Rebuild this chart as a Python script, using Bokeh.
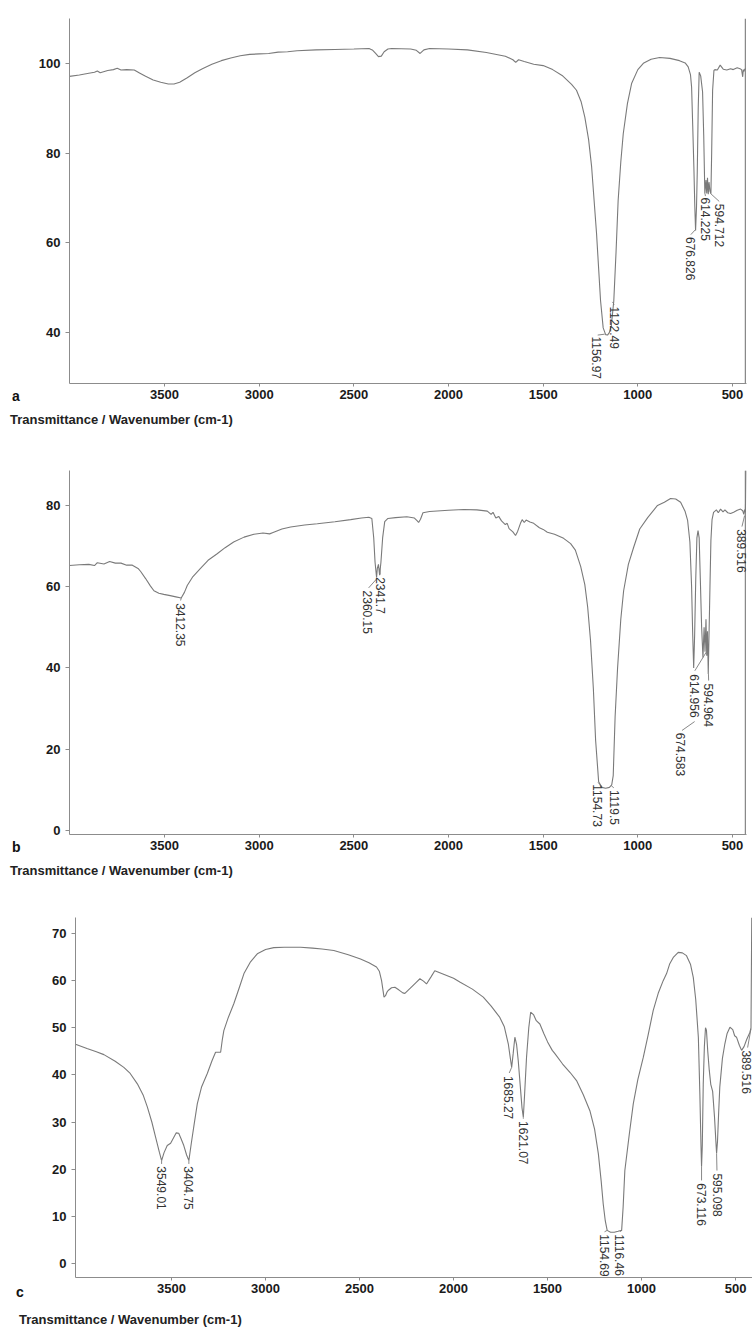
import numpy as np
from bokeh.plotting import figure
from bokeh.models import Range1d, FixedTicker, Div
from bokeh.layouts import column, row
from bokeh.embed import file_html
from bokeh.resources import INLINE
from bokeh.core.properties import value

# ---------------- data: panel a ----------------
a_wn = [4002, 3950, 3900, 3870, 3855, 3840, 3800, 3770, 3750, 3730, 3700, 3660, 3630, 3600, 3560, 3520, 3480,
        3450, 3420, 3380, 3340, 3300, 3250, 3200, 3150, 3100, 3050, 3000, 2950, 2900, 2850, 2800, 2700,
        2600, 2500, 2420, 2400, 2385, 2370, 2355, 2340, 2320, 2300, 2200, 2170, 2150, 2130, 2100, 2000,
        1900, 1800, 1700, 1660, 1645, 1630, 1600, 1550, 1500, 1450, 1400, 1350, 1324, 1300, 1280, 1260,
        1244, 1218, 1197, 1183, 1170, 1160, 1150, 1140, 1127, 1115, 1104, 1090, 1077, 1055, 1033, 1000,
        971, 930, 885, 830, 780, 750, 734, 722, 716, 710, 704, 699, 695, 690, 686, 681, 676, 668, 658,
        652, 646, 640, 636, 632, 628, 624, 619, 614, 610, 605, 598, 593, 580, 565, 549, 530, 510, 496,
        475, 460, 452, 446, 443, 440, 435, 430, 427]
a_T = [97.1, 97.4, 97.8, 98.0, 98.3, 97.9, 98.4, 98.6, 98.9, 98.5, 98.6, 98.5, 97.8, 97.1, 96.3, 95.8, 95.4,
       95.4, 95.8, 96.8, 97.9, 98.8, 99.8, 100.6, 101.2, 101.7, 102.0, 102.1, 102.2, 102.5, 102.6, 102.8, 103.0,
       103.1, 103.2, 103.3, 102.9, 102.2, 101.5, 101.6, 102.6, 103.2, 103.3, 103.2, 102.9, 102.2, 103.0, 103.3, 103.2,
       103.0, 102.4, 101.6, 100.8, 100.2, 100.8, 100.4, 99.8, 99.5, 98.6, 97.3, 95.3, 94.0, 91.5, 88.0, 83.0,
       76.9, 62.0, 47.1, 41.0, 39.5, 39.4, 40.0, 41.5, 47.0, 58.0, 69.4, 78.0, 84.3, 91.0, 95.5, 98.6,
       100.0, 100.9, 101.3, 101.1, 100.6, 100.1, 99.2, 97.5, 94.7, 86.0, 76.9, 68.0, 62.7, 68.0, 76.0, 90.0, 98.0, 97.2, 93.6,
       84.0, 70.9, 74.0, 71.0, 74.5, 70.8, 73.5, 71.5, 70.9, 80.0, 94.0, 98.4, 98.6, 98.5, 99.6, 98.7, 98.5, 98.8,
       98.6, 99.0, 98.8, 98.6, 97.0, 98.6, 98.2, 98.7, 98.8]
a_lab = ["1156.97", "1122.49", "676.826", "614.225", "594.712"]
a_lab_wn = [1216, 1123, 724, 643, 566]
a_lab_T = [39.3, 46.0, 61.5, 70.3, 68.9]
a_lead_wn0 = [1175, 1134, 696, 645, 614]
a_lead_T0 = [39.6, 46.8, 62.9, 70.9, 70.9]
a_lead_wn1 = [1212, 1125, 720, 643, 570]
a_lead_T1 = [39.4, 46.2, 61.8, 70.4, 69.2]

# ---------------- data: panel b ----------------
b_wn = [4002, 3950, 3900, 3870, 3855, 3820, 3790, 3760, 3730, 3700, 3670, 3640, 3627, 3600, 3575, 3556, 3530,
        3504, 3470, 3440, 3412, 3395, 3380, 3350, 3310, 3270, 3222, 3180, 3135, 3080, 3028, 2980, 2945,
        2930, 2880, 2834, 2760, 2693, 2600, 2517, 2460, 2421, 2405, 2395, 2388, 2380, 2376, 2370, 2364,
        2357, 2348, 2337, 2320, 2280, 2220, 2180, 2165, 2158, 2148, 2135, 2100, 2000, 1920, 1850, 1795,
        1775, 1765, 1750, 1735, 1720, 1700, 1690, 1680, 1660, 1646, 1635, 1620, 1611, 1600, 1590, 1570,
        1550, 1520, 1500, 1478, 1440, 1410, 1392, 1355, 1330, 1302, 1280, 1265, 1250, 1235, 1223, 1207,
        1190, 1170, 1150, 1138, 1130, 1120, 1107, 1090, 1075, 1050, 1022, 990, 948, 896, 860, 827, 800,
        774, 750, 737, 725, 716, 710, 705, 700, 694, 688, 682, 676, 670, 663, 656, 650, 645, 640, 636, 632,
        628, 624, 619, 614, 608, 600, 585, 575, 563, 550, 540, 525, 510, 494, 475, 457, 446, 440, 436, 432, 428]
b_T = [65.2, 65.4, 65.5, 65.2, 65.9, 65.6, 66.2, 65.8, 65.8, 65.3, 65.3, 64.5, 63.8, 62.0, 60.2, 59.0, 58.4,
       58.1, 57.8, 57.5, 57.2, 58.6, 60.3, 62.5, 64.5, 66.5, 68.1, 69.6, 71.0, 72.2, 72.9, 73.2, 73.0,
       73.3, 74.2, 74.7, 75.2, 75.5, 76.0, 76.5, 76.9, 77.1, 76.8, 72.0, 66.0, 62.3, 64.5, 65.5, 62.8,
       66.0, 72.0, 76.0, 76.8, 77.0, 77.2, 76.9, 76.2, 75.8, 76.6, 78.2, 78.5, 78.8, 79.0, 78.9, 78.6,
       77.8, 78.3, 76.9, 77.3, 76.2, 75.3, 75.6, 74.3, 73.5, 72.6, 73.6, 75.6, 76.5, 75.8, 76.4, 75.9,
       75.6, 74.5, 74.1, 73.4, 72.9, 72.3, 71.9, 70.6, 69.0, 65.0, 60.5, 55.0, 46.8, 35.0, 22.2, 12.0,
       10.6, 10.4, 10.6, 11.2, 13.5, 28.0, 40.0, 52.0, 59.0, 65.5, 69.7, 74.2, 77.0, 80.0, 80.8, 81.7, 81.6,
       80.8, 78.5, 76.3, 71.0, 60.0, 48.0, 40.0, 48.0, 62.0, 72.0, 73.8, 72.0, 62.0, 50.0, 42.6, 50.0, 44.0,
       52.0, 43.0, 49.0, 38.5, 48.0, 60.0, 71.4, 76.5, 78.3, 78.9, 78.2, 79.1, 78.4, 78.9, 78.2, 78.0, 78.3,
       78.8, 79.1, 78.7, 77.8, 79.0, 78.3, 88.6]
b_lab = ["3412.35", "2360.15", "2341.7", "1154.73", "1119.5", "614.956", "594.964", "674.583", "389.516"]
b_lab_wn = [3415, 2430, 2360, 1213, 1125, 701, 625, 774, 452]
b_lab_T = [56.2, 59.3, 62.6, 11.6, 10.2, 38.7, 36.4, 24.3, 74.4]
b_lead_wn0 = [3412, 2378, 2364, 1190, 1140, 637, 627, 700, 436]
b_lead_T0 = [57.2, 62.0, 64.5, 10.8, 11.0, 44.0, 38.5, 26.8, 77.5]
b_lead_wn1 = [3415, 2422, 2361, 1210, 1127, 699, 626, 767, 450]
b_lead_T1 = [56.6, 59.7, 63.0, 11.8, 10.5, 39.3, 36.9, 24.6, 74.8]

# ---------------- data: panel c ----------------
c_wn = [4011, 3950, 3900, 3860, 3800, 3754, 3720, 3682, 3650, 3629, 3605, 3585, 3565, 3553, 3540, 3523,
        3505, 3490, 3475, 3462, 3450, 3435, 3420, 3408, 3395, 3380, 3363, 3340, 3310, 3285, 3266, 3250,
        3239, 3230, 3222, 3200, 3169, 3140, 3115, 3080, 3044, 3000, 2956, 2900, 2814, 2750, 2700, 2637,
        2560, 2495, 2450, 2410, 2395, 2383, 2370, 2362, 2355, 2348, 2330, 2312, 2290, 2270, 2259, 2230,
        2200, 2179, 2160, 2144, 2120, 2100, 2050, 2000, 1967, 1900, 1842, 1800, 1754, 1730, 1709, 1698,
        1691, 1683, 1674, 1665, 1656, 1645, 1636, 1629, 1622, 1612, 1600, 1590, 1575, 1560, 1541, 1520,
        1500, 1475, 1461, 1420, 1380, 1346, 1310, 1275, 1250, 1230, 1215, 1204, 1193, 1183, 1165, 1145,
        1125, 1106, 1098, 1089, 1065, 1044, 1020, 991, 965, 938, 910, 885, 867, 850, 830, 805, 783, 761,
        740, 725, 712, 698, 690, 684, 681, 677, 672, 666, 660, 655, 648, 640, 632, 622, 612, 605, 601,
        596, 590, 584, 570, 557, 545, 530, 515, 505, 495, 480, 468, 455, 441, 424, 418, 414]
c_T = [46.5, 45.6, 44.9, 44.3, 42.9, 41.6, 40.3, 38.1, 35.6, 33.2, 30.0, 26.8, 23.6, 21.8, 23.5, 25.0,
       25.5, 26.6, 27.7, 27.6, 26.5, 25.0, 23.0, 21.8, 25.5, 29.5, 33.9, 37.5, 40.3, 43.0, 44.8, 44.8,
       44.8, 47.5, 49.4, 52.0, 55.1, 58.5, 61.5, 64.0, 65.7, 66.6, 67.0, 67.1, 67.1, 66.9, 66.7, 66.4,
       65.5, 64.6, 63.8, 62.9, 62.0, 60.0, 56.5, 56.8, 57.5, 57.9, 58.5, 58.6, 58.0, 57.4, 57.3, 58.4,
       59.6, 60.4, 59.9, 59.3, 60.8, 62.1, 61.3, 60.5, 59.7, 58.2, 56.5, 54.6, 52.2, 50.2, 46.6, 43.5,
       41.6, 44.5, 48.0, 46.5, 43.0, 37.5, 33.0, 31.0, 36.0, 43.7, 50.0, 53.3, 52.8, 51.5, 50.8, 48.8,
       47.0, 45.2, 44.5, 42.3, 40.5, 38.8, 35.8, 32.4, 28.5, 23.3, 17.5, 12.6, 9.0, 7.0, 6.6, 6.6,
       6.8, 7.0, 12.0, 19.7, 27.5, 33.9, 39.0, 43.7, 48.5, 53.7, 57.5, 60.0, 61.5, 63.6, 65.0, 66.0, 65.9, 65.3,
       63.5, 60.7, 56.0, 48.0, 36.0, 25.0, 20.5, 25.0, 38.0, 46.0, 50.0, 49.5, 45.0, 41.0, 38.0, 36.5, 31.0, 26.0, 23.3,
       26.0, 32.0, 37.4, 43.5, 46.6, 48.8, 50.1, 49.6, 48.3, 48.0, 46.3, 45.2, 46.0, 47.5, 49.0, 50.0, 73.4]
c_lab = ["3549.01", "3404.75", "1685.27", "1621.07", "1154.69", "1116.46", "673.116", "595.098", "389.516"]
c_lab_wn = [3553, 3408, 1707, 1629, 1199, 1116, 681, 598, 440]
c_lab_T = [20.8, 20.8, 40.0, 30.4, 6.4, 6.4, 17.2, 19.3, 45.4]
c_lead_wn0 = [3553, 3408, 1691, 1629, 1183, 1106, 681, 601, 418]
c_lead_T0 = [21.8, 21.8, 41.6, 31.0, 7.0, 7.0, 20.5, 23.3, 49.8]
c_lead_wn1 = [3553, 3408, 1704, 1629, 1197, 1113, 681, 599, 436]
c_lead_T1 = [21.1, 21.1, 40.4, 30.7, 6.7, 6.7, 17.6, 19.7, 45.8]

x_ticks = [500, 1000, 1500, 2000, 2500, 3000, 3500]
a_yticks = [40, 60, 80, 100]
b_yticks = [0, 20, 40, 60, 80]
c_yticks = [0, 10, 20, 30, 40, 50, 60, 70]
caption = "Transmittance / Wavenumber (cm-1)"

FONT = "Liberation Sans"
LINE = "#7a7a7a"
AXIS = "#8c8c8c"


def panel(wn, T, lab, lab_wn, lab_T, l0x, l0y, l1x, l1y, xr, yr, yticks,
          fw, fh, bl, br, bt, bb, right_line):
    p = figure(frame_width=fw, frame_height=fh, x_range=Range1d(*xr), y_range=Range1d(*yr),
               output_backend="svg", toolbar_location=None,
               min_border_left=bl, min_border_right=br, min_border_top=bt, min_border_bottom=bb)
    p.outline_line_color = None
    p.xgrid.visible = False
    p.ygrid.visible = False
    p.background_fill_color = "white"
    p.border_fill_color = "white"
    for ax in (p.xaxis[0], p.yaxis[0]):
        ax.axis_line_color = AXIS
        ax.major_tick_line_color = AXIS
        ax.minor_tick_line_color = None
        ax.major_tick_in = 0
        ax.major_label_text_font = FONT
        ax.major_label_text_font_style = "bold"
        ax.major_label_text_font_size = "13px"
        ax.major_label_text_color = "#1a1a1a"
    p.xaxis.ticker = FixedTicker(ticks=x_ticks)
    p.yaxis.ticker = FixedTicker(ticks=yticks)
    p.xaxis.major_tick_out = 3
    p.xaxis.major_label_standoff = 3
    p.yaxis.major_tick_out = 4
    p.yaxis.major_label_standoff = 5
    if right_line:
        # right-hand frame edge of the instrument plot, taken from the ranges
        edge = xr[1] + 6
        p.line(x=[edge, edge], y=[yr[0], yr[1]], line_color="#858585", line_width=1.2)

    p.line(wn, T, line_color=LINE, line_width=1.1)
    p.segment(x0=l0x, y0=l0y, x1=l1x, y1=l1y, line_color=LINE, line_width=0.9)
    p.text(x=lab_wn, y=lab_T, text=lab, angle=-np.pi / 2, text_align="left",
           text_baseline="middle", text_font=value(FONT), text_font_size=value("12px"),
           text_color="#333333", y_offset=1)
    return p


def letter_div(letter, height, top, left):
    html = (f'<div style="margin-top:{top}px;padding-left:{left}px;line-height:16px;'
            f'font-family:\'Liberation Sans\';font-weight:bold;font-size:14px;color:#111">{letter}</div>')
    return Div(text=html, width=32, height=height, margin=0)


def caption_div(height, top, left):
    html = (f'<div style="margin-top:{top}px;padding-left:{left}px;line-height:15px;white-space:nowrap;'
            f'font-family:\'Liberation Sans\';font-weight:bold;font-size:13px;color:#222">{caption}</div>')
    return Div(text=html, width=752, height=height, margin=0)


pa = panel(a_wn, a_T, a_lab, a_lab_wn, a_lab_T, a_lead_wn0, a_lead_T0, a_lead_wn1, a_lead_T1,
           (4002, 426), (28.6, 110), a_yticks, 677, 365, 37, 6, 18, 25, True)
pb = panel(b_wn, b_T, b_lab, b_lab_wn, b_lab_T, b_lead_wn0, b_lead_T0, b_lead_wn1, b_lead_T1,
           (4002, 426), (-1, 88.6), b_yticks, 677, 364, 37, 6, 42, 24, True)
pc = panel(c_wn, c_T, c_lab, c_lab_wn, c_lab_T, c_lead_wn0, c_lead_T0, c_lead_wn1, c_lead_T1,
           (4011, 410), (-3, 73.4), c_yticks, 677, 360, 43, 0, 39, 22, False)

layout = column(
    row(letter_div("a", 408, 388, 12), pa, spacing=0),
    caption_div(20, 4, 10),
    row(letter_div("b", 430, 411, 12), pb, spacing=0),
    caption_div(20, 5, 10),
    row(letter_div("c", 421, 406, 16), pc, spacing=0),
    caption_div(28, 13, 19),
    spacing=0,
)
open("out.html", "w").write(file_html(layout, INLINE))
